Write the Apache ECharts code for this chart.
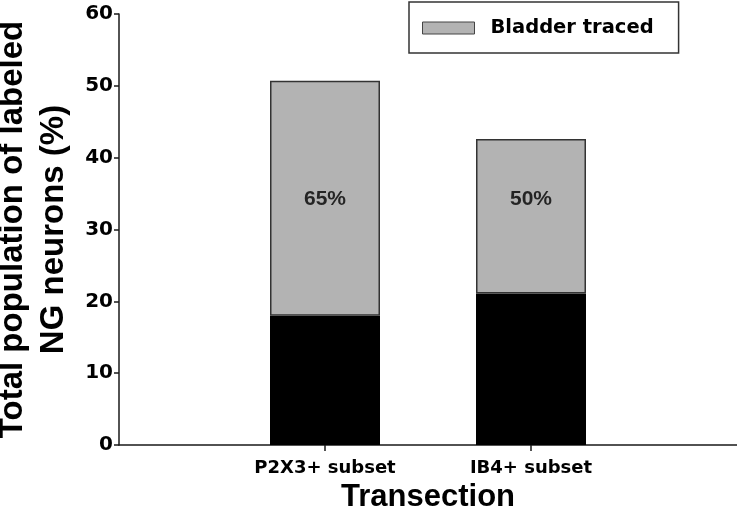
<!DOCTYPE html>
<html><head><meta charset="utf-8">
<script src="https://cdn.jsdelivr.net/npm/echarts@6/dist/echarts.min.js"></script>
<style>html,body{margin:0;padding:0;background:#fff}#c{width:737px;height:515px}</style>
</head><body><div id="c"></div>
<script>
// ---- data ----
const categories = ["P2X3+ subset", "IB4+ subset"];
const untracedValues = [18.0, 21.1];          // black lower segment
const bladderTracedValues = [32.7, 21.5];     // grey upper segment
const percentLabels = ["65%", "50%"];
const legendNames = ["Bladder traced"];
const yAxisTitle = "Total population of labeled\nNG neurons (%)";
const xAxisTitle = "Transection";

// ---- build ----
const axisCats = ["", ...categories, ""];
const pad = arr => ['-', ...arr, '-'];
const labelLevel = 34.2;
const small = {fontFamily:'DejaVu Sans', fontWeight:'bold', color:'#000'};
const big = {fontFamily:'Liberation Sans', fontWeight:'bold', color:'#000'};

const chart = echarts.init(document.getElementById('c'), null, {renderer:'canvas'});
chart.setOption({
  animation:false,
  grid:{left:119, right:0, top:14, bottom:70, containLabel:false, outerBoundsMode:'none'},
  legend:{
    data: legendNames,
    left:409, top:2,
    padding:[16, 25, 15, 13],
    borderColor:'#333', borderWidth:1.5, borderRadius:0,
    itemWidth:52, itemHeight:12,
    icon:'rect',
    itemStyle:{borderColor:'#444', borderWidth:1},
    textStyle:Object.assign({fontSize:19.5, lineHeight:20, padding:[0,0,0,11]}, small)
  },
  xAxis:{
    type:'category', data:axisCats, boundaryGap:false,
    axisLine:{lineStyle:{color:'#1a1a1a', width:1.5}},
    axisTick:{interval:(i)=> i>0 && i<axisCats.length-1, length:6, lineStyle:{color:'#1a1a1a', width:1.5}},
    axisLabel:Object.assign({interval:0, fontSize:18, margin:14}, small),
    name:xAxisTitle, nameLocation:'middle', nameGap:36,
    nameTextStyle:Object.assign({fontSize:31}, big)
  },
  yAxis:{
    type:'value', min:0, max:60, interval:10,
    splitLine:{show:false},
    axisLine:{show:true, lineStyle:{color:'#1a1a1a', width:1.5}},
    axisTick:{show:true, length:5, lineStyle:{color:'#1a1a1a', width:1.5}},
    axisLabel:Object.assign({fontSize:20, margin:6}, small),
    name:yAxisTitle, nameLocation:'middle', nameGap:44,
    nameTextStyle:Object.assign({fontSize:33, lineHeight:41, align:'center'}, big)
  },
  series:[
    {name:'Not traced', type:'bar', stack:'t', barWidth:110, data:pad(untracedValues),
     itemStyle:{color:'#000'}},
    {name:'Bladder traced', type:'bar', stack:'t', barWidth:110, data:pad(bladderTracedValues),
     itemStyle:{color:'#b3b3b3', borderColor:'#333', borderWidth:1.5}},
    {name:'labels', type:'scatter', symbolSize:1, itemStyle:{color:'rgba(0,0,0,0)'},
     silent:true,
     data:categories.map((c,i)=>({value:[c, labelLevel], label:{formatter:percentLabels[i]}})),
     label:Object.assign({show:true, position:'inside', fontSize:21}, big)}
  ]
});
</script></body></html>
